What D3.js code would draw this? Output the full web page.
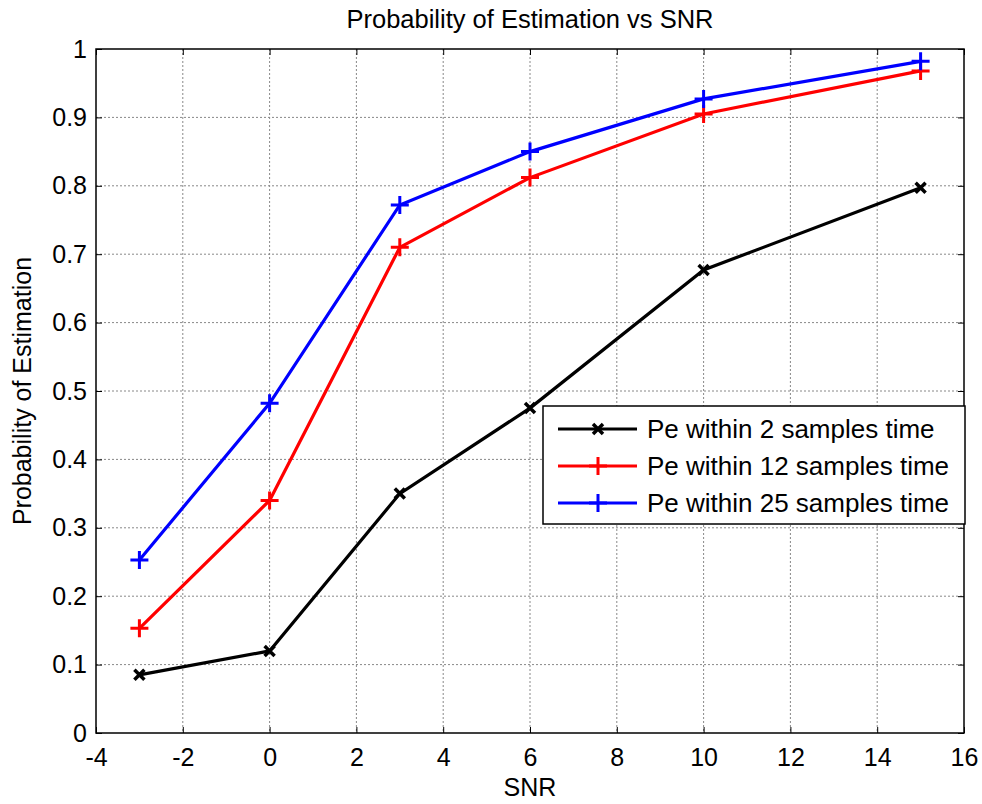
<!DOCTYPE html>
<html>
<head>
<meta charset="utf-8">
<script src="https://cdn.jsdelivr.net/npm/d3@7"></script>
<style>
  body { margin: 0; background: #fff; }
  text { font-family: "Liberation Sans", Arial, sans-serif; fill: #000; }
  .grid line { stroke: #888; stroke-dasharray: 2,2; stroke-width: 1; }
</style>
</head>
<body>
<svg width="982" height="804"></svg>
<script>
var snr = [-3, 0, 3, 6, 10, 15];
var pe2 = [0.085, 0.12, 0.35, 0.475, 0.677, 0.797];
var pe12 = [0.153, 0.34, 0.71, 0.812, 0.905, 0.968];
var pe25 = [0.253, 0.482, 0.772, 0.85, 0.927, 0.982];
var seriesNames = ["Pe within 2 samples time", "Pe within 12 samples time", "Pe within 25 samples time"];
var xTicks = [-4, -2, 0, 2, 4, 6, 8, 10, 12, 14, 16];
var yTicks = [0, 0.1, 0.2, 0.3, 0.4, 0.5, 0.6, 0.7, 0.8, 0.9, 1];

var svg = d3.select("svg");
var m = { l: 96, r: 964, t: 49, b: 733 };

var x = d3.scaleLinear().domain([-4, 16]).range([m.l, m.r]);
var y = d3.scaleLinear().domain([0, 1]).range([m.b, m.t]);

// grid
var grid = svg.append("g").attr("class", "grid");
grid.selectAll(".vx").data(xTicks.slice(1, -1)).enter().append("line")
    .attr("x1", d => x(d)).attr("x2", d => x(d))
    .attr("y1", m.t).attr("y2", m.b);
grid.selectAll(".hy").data(yTicks.slice(1, -1)).enter().append("line")
    .attr("x1", m.l).attr("x2", m.r)
    .attr("y1", d => y(d)).attr("y2", d => y(d));

// axes, ticks inside
var fmtY = d => d === 0 ? "0" : d === 1 ? "1" : d3.format(".1f")(d);
var fmtX = d => String(d);
function styleAxis(g) {
    g.select(".domain").remove();
    g.selectAll("text").style("font-size", "25px");
    g.selectAll("line").attr("stroke", "#000");
}
svg.append("g").attr("transform", "translate(0," + m.b + ")")
    .call(d3.axisBottom(x).tickValues(xTicks).tickSize(-6).tickPadding(15).tickFormat(fmtX))
    .call(styleAxis);
svg.append("g").attr("transform", "translate(0," + m.t + ")")
    .call(d3.axisTop(x).tickValues(xTicks).tickSize(-6).tickFormat(""))
    .call(styleAxis);
svg.append("g").attr("transform", "translate(" + m.l + ",0)")
    .call(d3.axisLeft(y).tickValues(yTicks).tickSize(-6).tickPadding(9).tickFormat(fmtY))
    .call(styleAxis);
svg.append("g").attr("transform", "translate(" + m.r + ",0)")
    .call(d3.axisRight(y).tickValues(yTicks).tickSize(-6).tickFormat(""))
    .call(styleAxis);

svg.append("rect").attr("x", m.l).attr("y", m.t)
    .attr("width", m.r - m.l).attr("height", m.b - m.t)
    .attr("fill", "none").attr("stroke", "#000").attr("stroke-width", 1.5);

// series
var series = [
    { name: seriesNames[0], values: pe2, color: "#000", marker: "x" },
    { name: seriesNames[1], values: pe12, color: "#ff0000", marker: "+" },
    { name: seriesNames[2], values: pe25, color: "#0000ff", marker: "+" }
];

var line = d3.line().x(d => x(d[0])).y(d => y(d[1]));

function marker(g, px, py, type, color) {
    var s = type === "x" ? 5 : 9;
    var p = type === "x"
        ? "M" + (px - s) + "," + (py - s) + "L" + (px + s) + "," + (py + s) + "M" + (px - s) + "," + (py + s) + "L" + (px + s) + "," + (py - s)
        : "M" + (px - s) + "," + py + "L" + (px + s) + "," + py + "M" + px + "," + (py - s) + "L" + px + "," + (py + s);
    g.append("path").attr("d", p).attr("stroke", color)
        .attr("stroke-width", type === "x" ? 3.5 : 3).attr("fill", "none");
}

series.forEach(function (s) {
    var pts = snr.map((v, i) => [v, s.values[i]]);
    svg.append("path").datum(pts).attr("d", line)
        .attr("fill", "none").attr("stroke", s.color).attr("stroke-width", 3.2);
    var g = svg.append("g");
    pts.forEach(p => marker(g, x(p[0]), y(p[1]), s.marker, s.color));
});

// legend
var lg = svg.append("g").attr("transform", "translate(543,406)");
lg.append("rect").attr("width", 422).attr("height", 118)
    .attr("fill", "#fff").attr("stroke", "#000").attr("stroke-width", 1.5);
series.forEach(function (s, i) {
    var yy = 23 + i * 37;
    lg.append("line").attr("x1", 15).attr("x2", 94).attr("y1", yy).attr("y2", yy)
        .attr("stroke", s.color).attr("stroke-width", 3.2);
    marker(lg, 55, yy, s.marker, s.color);
    lg.append("text").attr("x", 104).attr("y", yy).attr("dy", "0.35em")
        .style("font-size", "26px").text(s.name);
});

// titles
svg.append("text").attr("x", (m.l + m.r) / 2).attr("y", 28)
    .attr("text-anchor", "middle").style("font-size", "25.5px")
    .text("Probability of Estimation vs SNR");
svg.append("text").attr("x", (m.l + m.r) / 2).attr("y", 796)
    .attr("text-anchor", "middle").style("font-size", "25px").text("SNR");
svg.append("text").attr("transform", "translate(31," + (m.t + m.b) / 2 + ") rotate(-90)")
    .attr("text-anchor", "middle").style("font-size", "25px")
    .text("Probability of Estimation");
</script>
</body>
</html>
